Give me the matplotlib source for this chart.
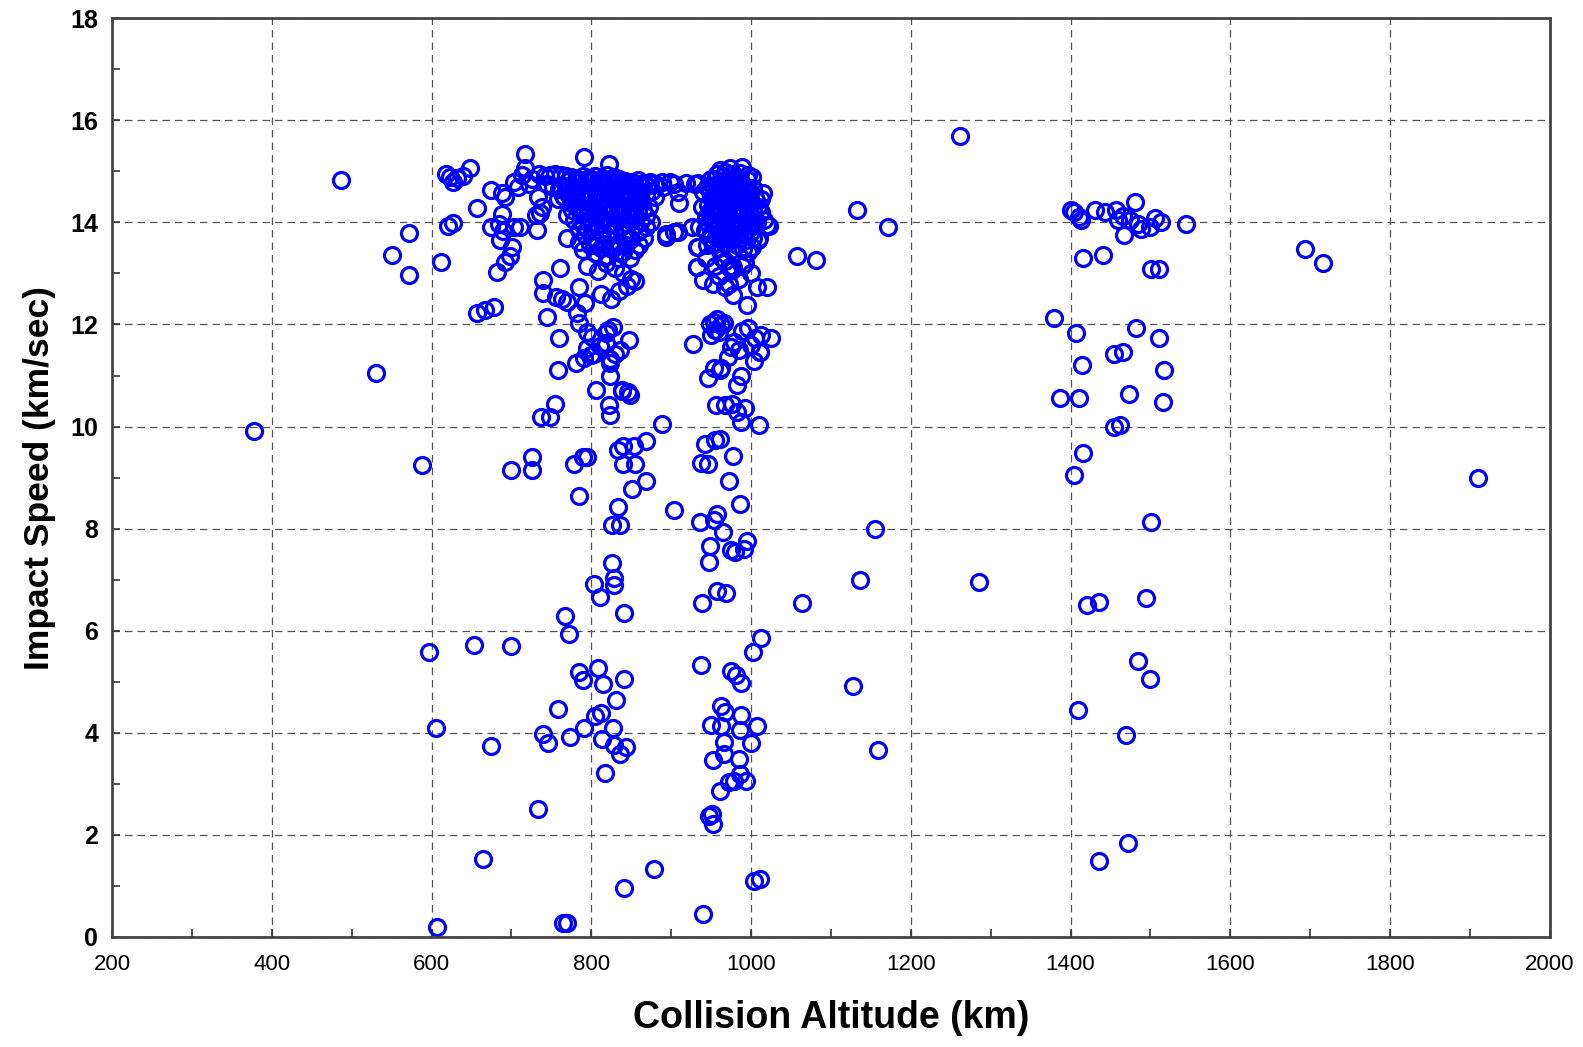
import matplotlib.pyplot as plt
from matplotlib.ticker import MultipleLocator

# scattered collisions (altitude km, impact speed km/s)
alt_sparse = [378, 486, 531, 551, 572, 572, 588, 597, 606, 607, 612, 618, 623, 627, 632, 620, 627,
              639, 648, 657, 657, 667, 678, 653, 664, 674, 699, 699, 726, 726, 733, 737, 739, 746,
              748, 755, 758, 758, 763, 767, 772, 773, 764, 770, 778, 781, 784, 784, 789, 789, 791,
              791, 795, 799, 803, 805, 806, 809, 811, 812, 814, 815, 817, 818, 821, 822, 823, 824,
              824, 826, 826, 827, 828, 828, 828, 831, 833, 836, 836, 838, 839, 840, 833, 840, 841,
              841, 843, 846, 847, 849, 841, 851, 854, 855, 869, 869, 878, 888, 894, 903, 904,
              936, 938, 937, 937, 940, 942, 946, 947, 947, 949, 950, 951, 952, 952, 953, 955, 956,
              958, 958, 961, 961, 963, 963, 965, 966, 966, 967, 968, 969, 972, 972, 975, 975, 976,
              978, 979, 980, 981, 982, 985, 986, 986, 986, 987, 988, 988, 992, 991, 994, 995, 1000,
              1003, 1004, 1007, 1010, 1011, 1013, 1011,
              1058, 1081, 1064, 1128, 1133, 1137, 1155, 1159, 1172, 1262, 1286, 1693, 1716, 1910]
spd_sparse = [9.91, 14.83, 11.04, 13.37, 13.79, 12.97, 9.24, 5.58, 4.09, 0.2, 13.23, 14.95, 14.89,
              14.8, 14.86, 13.92, 13.98, 14.9, 15.07, 14.28, 12.22, 12.28, 12.34, 5.72, 1.52, 3.74,
              9.14, 5.70, 9.41, 9.14, 2.51, 10.19, 3.98, 3.80, 10.19, 10.44, 4.47, 11.1, 12.5, 6.29,
              5.93, 3.92, 0.28, 0.28, 9.26, 11.25, 8.64, 5.20, 5.04, 9.41, 4.09, 11.35, 9.41, 11.41,
              6.92, 4.33, 10.72, 5.26, 6.67, 4.39, 3.88, 4.96, 3.22, 11.63, 11.89, 10.42, 10.23,
              11.0, 11.25, 8.07, 7.32, 4.09, 7.04, 6.9, 3.76, 4.65, 8.43, 8.07, 3.58, 10.72, 10.70,
              9.61, 9.55, 9.26, 6.35, 5.06, 3.72, 10.68, 11.69, 10.62, 0.95, 8.78, 9.61, 9.26,
              9.71, 8.94, 1.34, 10.05, 13.77, 8.37, 13.82,
              8.13, 6.55, 5.32, 9.28, 0.45, 9.65, 9.26, 2.37, 7.34, 7.65, 4.15, 2.41, 3.46, 2.22,
              8.17, 9.73, 10.42, 8.29, 6.78, 2.85, 9.75, 4.13, 4.53, 7.93, 3.82, 3.58, 10.42, 4.41,
              6.74, 8.94, 3.03, 5.22, 7.58, 10.44, 9.43, 3.05, 7.54, 5.14, 10.28, 3.48, 4.05, 8.48,
              3.2, 4.98, 10.09, 4.35, 10.36, 7.6, 3.05, 7.75, 3.80, 5.58, 1.09, 4.13, 10.03, 11.47,
              5.85, 1.13,
              13.35, 13.27, 6.55, 4.92, 14.24, 7.00, 7.99, 3.66, 13.9, 15.70, 6.96, 13.47, 13.21, 9.0]

# band around 700-930 km
alt_band800 = [735, 742, 748, 755, 762, 768, 775, 782, 790, 797, 805, 812, 820, 828, 835, 842, 850,
               858, 866, 873, 880, 888, 745, 752, 760, 768, 776, 783, 790, 798, 805, 813, 820, 828,
               836, 844, 852, 860, 868, 876, 758, 766, 774, 781, 788, 795, 802, 810, 818, 826, 834,
               842, 850, 857, 865, 770, 778, 786, 793, 800, 808, 815, 823, 830, 838, 846, 854, 862,
               868, 785, 792, 800, 806, 813, 820, 828, 835, 842, 850, 858, 866, 790, 798, 805, 812,
               820, 826, 833, 840, 848, 855, 795, 808, 818, 830, 840, 850, 845, 855, 835, 825, 812,
               732, 736, 739, 740, 744, 756, 759, 761, 769, 769, 784, 785, 792, 782, 785, 794, 801,
               794, 803, 811, 819, 827, 823, 830, 836, 791, 822, 675, 688, 692, 675, 684, 688, 690,
               703, 711, 686, 701, 698, 692, 682, 703, 708, 713, 717, 717, 722, 726, 731, 733, 738,
               899, 909, 910, 919, 934, 894, 909, 926, 932, 932, 890, 880, 872, 875, 868, 860, 904,
               771, 779, 786, 794, 801, 809, 816, 824, 831, 839, 846, 854, 862, 870,
               764, 771, 779, 786, 794, 801, 809, 816, 824, 831, 839, 847, 855, 862,
               776, 784, 791, 798, 806, 813, 821, 829, 836, 844, 851, 858,
               790, 798, 806, 814, 822, 830, 838, 846, 854, 803, 816, 830, 843]
spd_band800 = [14.95, 14.9, 14.93, 14.95, 14.92, 14.9, 14.88, 14.85, 14.9, 14.87, 14.9, 14.85,
               14.93, 14.88, 14.85, 14.82, 14.8, 14.83, 14.78, 14.8, 14.76, 14.79, 14.75, 14.7,
               14.65, 14.72, 14.6, 14.68, 14.55, 14.62, 14.7, 14.58, 14.66, 14.6, 14.7, 14.62,
               14.68, 14.6, 14.55, 14.62, 14.45, 14.5, 14.38, 14.42, 14.3, 14.45, 14.35, 14.4, 14.3,
               14.45, 14.35, 14.42, 14.3, 14.38, 14.25, 14.15, 14.05, 14.2, 14.1, 14.0, 14.15, 14.05,
               14.2, 14.08, 14.18, 14.1, 14.15, 14.02, 14.12, 13.85, 13.75, 13.9, 13.65, 13.8, 13.7,
               13.85, 13.6, 13.78, 13.68, 13.82, 13.7, 13.45, 13.55, 13.4, 13.5, 13.35, 13.48, 13.3,
               13.42, 13.3, 13.45, 13.15, 13.05, 13.2, 13.1, 13.0, 12.9, 12.75, 12.85, 12.65, 12.5,
               12.6, 13.85, 14.18, 12.87, 12.62, 12.14, 12.54, 11.73, 13.1, 12.44, 13.69, 13.61,
               12.74, 12.42, 12.22, 12.02, 11.85, 11.75, 11.53, 11.43, 11.57, 11.83, 11.95, 11.33,
               11.43, 11.49, 15.29, 15.15, 14.63, 14.57, 14.49, 13.9, 13.96, 14.16, 13.84, 13.9,
               13.9, 13.65, 13.51, 13.35, 13.23, 13.03, 14.79, 14.7, 14.93, 15.33, 15.07, 14.75,
               14.85, 14.14, 14.5, 14.3, 14.79, 14.6, 14.38, 14.77, 14.77, 13.72, 13.82, 13.9,
               13.52, 13.13, 14.7, 14.5, 14.3, 14.0, 13.9, 13.55, 14.75,
               14.82, 14.8, 14.84, 14.79, 14.83, 14.8, 14.78, 14.82, 14.79, 14.8, 14.76, 14.78, 14.74, 14.72,
               14.52, 14.55, 14.5, 14.53, 14.48, 14.52, 14.55, 14.5, 14.52, 14.48, 14.5, 14.46, 14.48, 14.44,
               14.25, 14.28, 14.22, 14.26, 14.24, 14.28, 14.22, 14.25, 14.27, 14.22, 14.24, 14.2,
               13.95, 13.98, 13.92, 13.96, 13.94, 13.98, 13.93, 13.96, 13.92, 13.55, 13.58, 13.52, 13.56]

# band around 930-1025 km
alt_band1000 = [961, 974, 989, 1001, 1015, 1020, 950, 945, 955, 965, 972, 980, 988, 995, 948, 955,
                962, 970, 977, 984, 991, 998, 1005, 1012, 946, 953, 960, 967, 974, 981, 988, 995,
                1002, 1009, 944, 951, 958, 965, 972, 979, 986, 993, 1000, 1008, 1016, 942, 950, 957,
                964, 971, 978, 985, 992, 1000, 1010, 945, 953, 960, 968, 975, 983, 990, 996, 1001,
                1009, 933, 932, 940, 952, 964, 967, 972, 976, 977, 989, 993, 972, 968, 977, 995,
                1007, 1020, 1022, 935, 938, 940, 930, 944, 955, 960, 985, 1000, 948, 953, 958, 962,
                966, 955, 960, 950, 927, 953, 961, 989, 996, 1005, 1013, 1025, 971, 979, 987, 983,
                963, 946, 1004, 1011, 985, 975, 1000,
                958, 968, 978, 986, 996,
                952, 958, 966, 973, 980, 987, 994, 1002,
                950, 957, 964, 971, 978, 985, 992, 999, 1006,
                948, 955, 962, 969, 976, 983, 990, 997, 1004, 1012,
                946, 953, 960, 967, 974, 981, 988, 995, 1003,
                948, 956, 963, 970, 978, 986, 994, 1003]
spd_band1000 = [15.03, 15.07, 15.09, 14.89, 14.58, 13.94, 14.85, 14.7, 14.85, 14.9, 14.82, 14.88,
                14.8, 14.85, 14.6, 14.55, 14.65, 14.58, 14.62, 14.55, 14.65, 14.6, 14.5, 14.45,
                14.35, 14.3, 14.4, 14.32, 14.38, 14.3, 14.4, 14.35, 14.28, 14.3, 14.1, 14.05, 14.15,
                14.08, 14.12, 14.02, 14.15, 14.05, 14.1, 14.0, 14.05, 13.85, 13.8, 13.9, 13.75,
                13.85, 13.8, 13.88, 13.75, 13.82, 13.7, 13.55, 13.6, 13.5, 13.58, 13.45, 13.55,
                13.48, 13.41, 13.51, 13.65, 13.52, 13.13, 12.87, 12.8, 13.3, 13.25, 13.13, 13.07,
                13.13, 13.15, 13.2, 12.8, 12.74, 12.58, 12.38, 12.74, 12.74, 13.92, 13.9, 14.3, 14.6,
                14.75, 13.3, 13.15, 12.95, 12.9, 13.0, 12.0, 12.05, 12.1, 11.98, 12.03, 11.9, 11.85,
                11.8, 11.61, 11.15, 11.1, 11.87, 11.93, 11.73, 11.79, 11.73, 11.37, 11.65, 11.0,
                10.82, 11.14, 10.96, 11.29, 11.47, 11.5, 11.55, 11.6,
                14.95, 14.98, 14.94, 14.97, 14.93,
                14.72, 14.75, 14.7, 14.74, 14.71, 14.73, 14.7, 14.68,
                14.48, 14.5, 14.46, 14.5, 14.47, 14.49, 14.45, 14.48, 14.44,
                14.22, 14.25, 14.2, 14.24, 14.21, 14.23, 14.2, 14.22, 14.18, 14.2,
                13.98, 13.95, 14.0, 13.96, 13.99, 13.94, 13.97, 13.95, 13.93,
                13.7, 13.72, 13.68, 13.71, 13.67, 13.7, 13.66, 13.69]

# band around 1380-1550 km
alt_band1450 = [1379, 1387, 1400, 1404, 1407, 1404, 1409, 1410, 1411, 1413, 1414, 1416, 1416, 1420,
                1431, 1436, 1436, 1441, 1443, 1454, 1455, 1457, 1460, 1462, 1466, 1466, 1467, 1469,
                1472, 1473, 1475, 1481, 1482, 1484, 1485, 1488, 1494, 1499, 1499, 1501, 1501, 1506,
                1511, 1511, 1513, 1516, 1517, 1545]
spd_band1450 = [12.12, 10.56, 14.24, 14.2, 11.83, 9.06, 4.45, 14.1, 10.56, 14.04, 11.21, 13.31,
                9.49, 6.51, 14.24, 6.57, 1.48, 13.37, 14.2, 9.99, 11.43, 14.24, 14.04, 10.03, 11.47,
                14.12, 13.75, 3.96, 1.84, 10.64, 14.04, 14.4, 11.93, 13.96, 5.40, 13.88, 6.65, 5.06,
                13.9, 13.09, 8.13, 14.08, 13.09, 11.73, 14.0, 10.48, 11.10, 13.96]

plt.rcParams['font.family'] = ['Liberation Sans', 'DejaVu Sans']

fig = plt.figure(figsize=(15.83, 10.47), dpi=100)
ax = fig.add_axes([0.0708, 0.1051, 0.9082, 0.8775])

groups = [(alt_sparse, spd_sparse), (alt_band800, spd_band800),
          (alt_band1000, spd_band1000), (alt_band1450, spd_band1450)]
for alt, spd in groups:
    ax.plot(alt, spd, linestyle='none', marker='o', markersize=11.5,
            markerfacecolor='none', markeredgecolor='#0000ff', markeredgewidth=2.3)

ax.set_xlim(200, 2000)
ax.set_ylim(0, 18)
ax.xaxis.set_major_locator(MultipleLocator(200))
ax.xaxis.set_minor_locator(MultipleLocator(100))
ax.yaxis.set_major_locator(MultipleLocator(2))
ax.yaxis.set_minor_locator(MultipleLocator(1))
ax.grid(True, which='major', linestyle=(0, (6, 4)), color='#555555', linewidth=0.9)
ax.tick_params(which='both', direction='in', length=6, width=1.2, color='#333333')
ax.tick_params(axis='x', which='major', labelsize=16, pad=12)
ax.tick_params(axis='y', which='major', labelsize=18, pad=10)
for lab in ax.get_yticklabels():
    lab.set_fontweight('bold')
for s in ax.spines.values():
    s.set_color('#444444')
    s.set_linewidth(2)

ax.set_xlabel('Collision Altitude (km)', fontsize=27, fontweight='bold', labelpad=18)
ax.set_ylabel('Impact Speed (km/sec)', fontsize=25.5, fontweight='bold', labelpad=10)

fig.savefig('out.png', dpi=100)
